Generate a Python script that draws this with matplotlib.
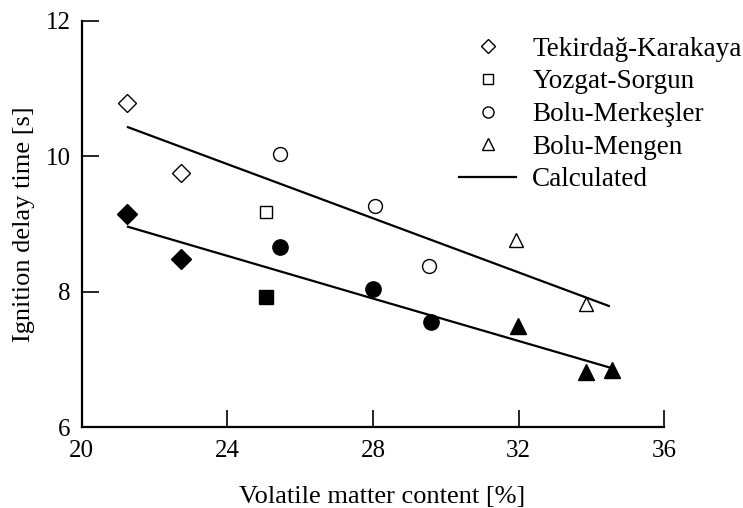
import numpy as np
import matplotlib
matplotlib.use("Agg")
import matplotlib.pyplot as plt
from matplotlib.lines import Line2D

plt.rcParams['font.family'] = ['Liberation Serif', 'DejaVu Serif']

# === Data ===
# open markers
tek_x, tek_y = [21.25, 22.74], [10.78, 9.76]
yoz_x, yoz_y = [25.06], [9.18]
mer_x, mer_y = [25.44, 28.05, 29.54], [10.04, 9.27, 8.38]
men_x, men_y = [31.94, 33.86], [8.76, 7.82]

# filled markers
tek_fx, tek_fy = [21.23, 22.74], [9.15, 8.48]
yoz_fx, yoz_fy = [25.05], [7.92]
mer_fx, mer_fy = [25.44, 28.0, 29.58], [8.66, 8.04, 7.56]
men_fx, men_fy = [31.99, 33.84, 34.57], [7.50, 6.81, 6.84]

# calculated lines
calc1_x, calc1_y = [21.27, 34.48], [10.43, 7.79]
calc2_x, calc2_y = [21.27, 28.0, 34.64], [8.96, 7.90, 6.86]

fig = plt.figure(figsize=(7.43, 5.08), dpi=100)
ax = fig.add_axes([0.110, 0.159, 0.784, 0.800])

ax.plot(calc1_x, calc1_y, color='k', lw=1.6)
ax.plot(calc2_x, calc2_y, color='k', lw=1.6)

open_kw = dict(ls='none', mfc='white', mec='k', mew=1.0)
ax.plot(tek_x, tek_y, marker='D', ms=9, **open_kw)
ax.plot(yoz_x, yoz_y, marker='s', ms=9, **open_kw)
ax.plot(mer_x, mer_y, marker='o', ms=10, **open_kw)
ax.plot(men_x, men_y, marker='^', ms=10, **open_kw)

fill_kw = dict(ls='none', color='k')
ax.plot(tek_fx, tek_fy, marker='D', ms=10, **fill_kw)
ax.plot(yoz_fx, yoz_fy, marker='s', ms=10, **fill_kw)
ax.plot(mer_fx, mer_fy, marker='o', ms=11, **fill_kw)
ax.plot(men_fx, men_fy, marker='^', ms=11, **fill_kw)

ax.set_xlim(20, 36)
ax.set_ylim(6, 12)
ax.set_xticks([20, 24, 28, 32, 36])
ax.set_yticks([6, 8, 10, 12])
ax.spines['top'].set_visible(False)
ax.spines['right'].set_visible(False)
ax.spines['left'].set_linewidth(1.6)
ax.spines['bottom'].set_linewidth(1.6)
ax.tick_params(direction='in', length=12, width=1.2, labelsize=18, pad=8)
ax.tick_params(axis='x', pad=9)
ax.set_xlabel("Volatile matter content [%]", fontsize=19, labelpad=14)
ax.xaxis.set_label_coords(0.515, -0.145)
ax.set_ylabel("Ignition delay time [s]", fontsize=19, labelpad=8)

handles = [
    Line2D([], [], ls='none', marker='D', ms=7, mfc='white', mec='k', mew=1.0),
    Line2D([], [], ls='none', marker='s', ms=7, mfc='white', mec='k', mew=1.0),
    Line2D([], [], ls='none', marker='o', ms=8, mfc='white', mec='k', mew=1.0),
    Line2D([], [], ls='none', marker='^', ms=8, mfc='white', mec='k', mew=1.0),
    Line2D([], [], color='k', lw=1.6),
]
labels = ["Tekirdağ-Karakaya", "Yozgat-Sorgun", "Bolu-Merkeşler", "Bolu-Mengen", "Calculated"]
fig.legend(handles, labels, loc='upper right', bbox_to_anchor=(1.0, 0.93),
           frameon=False, fontsize=19.5, handlelength=2.1, handletextpad=0.6,
           labelspacing=0.28, borderaxespad=0.0, borderpad=0.05)

fig.savefig("out.png", dpi=100)
